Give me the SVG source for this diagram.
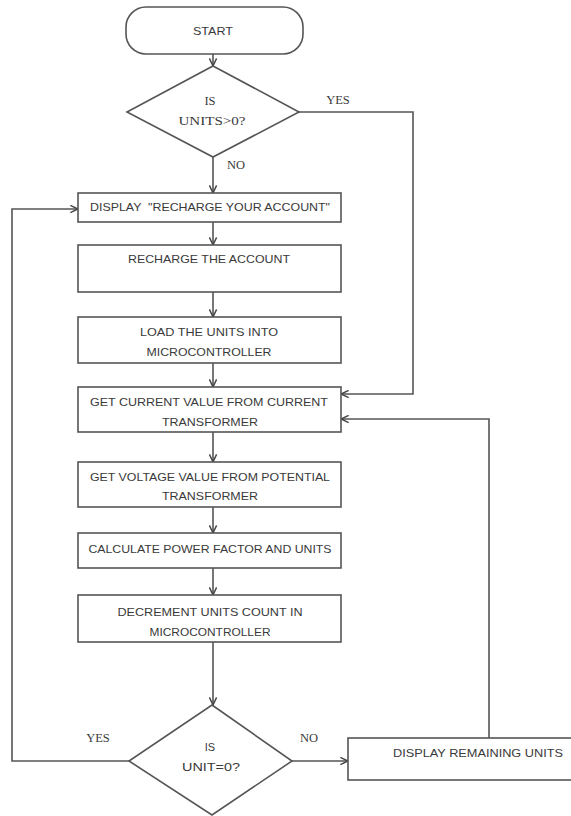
<svg xmlns="http://www.w3.org/2000/svg" width="571" height="816" viewBox="0 0 571 816">
<style>
.shape{fill:#fff;stroke:#555;stroke-width:1.6}
.line{fill:none;stroke:#555;stroke-width:1.6}
.t{font-family:"Liberation Sans",Arial,sans-serif;font-size:11px;fill:#3a3a3a;text-anchor:middle;dominant-baseline:central}
.s{font-family:"Liberation Serif","Times New Roman",serif;font-size:12.5px;fill:#3a3a3a;text-anchor:middle;dominant-baseline:central}
</style>
<defs>
<marker id="arr" viewBox="0 0 10 10" refX="9.5" refY="5" markerWidth="9" markerHeight="9" markerUnits="userSpaceOnUse" orient="auto">
<path d="M1,1 L9.5,5 L1,9" fill="none" stroke="#444" stroke-width="1.6"/>
</marker>
</defs>
<rect width="571" height="816" fill="#fff"/>
<g id="connectors">
<line class="line" x1="213" y1="54" x2="213" y2="66" marker-end="url(#arr)"/>
<line class="line" x1="213" y1="157" x2="213" y2="193" marker-end="url(#arr)"/>
<polyline class="line" points="299,112 413,112 413,394 341,394" marker-end="url(#arr)"/>
<line class="line" x1="213" y1="222" x2="213" y2="245" marker-end="url(#arr)"/>
<line class="line" x1="213" y1="292" x2="213" y2="317" marker-end="url(#arr)"/>
<line class="line" x1="213" y1="363" x2="213" y2="387" marker-end="url(#arr)"/>
<line class="line" x1="213" y1="432" x2="213" y2="462" marker-end="url(#arr)"/>
<line class="line" x1="213" y1="507" x2="213" y2="533" marker-end="url(#arr)"/>
<line class="line" x1="213" y1="568" x2="213" y2="595" marker-end="url(#arr)"/>
<line class="line" x1="213" y1="642" x2="213" y2="705" marker-end="url(#arr)"/>
<polyline class="line" points="129,761 12,761 12,209 78,209" marker-end="url(#arr)"/>
<line class="line" x1="292" y1="761" x2="348" y2="761" marker-end="url(#arr)"/>
<polyline class="line" points="489,738 489,419 341,419" marker-end="url(#arr)"/>
<text class="s" x="338" y="100">YES</text>
<text class="s" x="236" y="165">NO</text>
<text class="s" x="98" y="738">YES</text>
<text class="s" x="309" y="738">NO</text>
</g>
<g id="start">
<rect class="shape" x="126" y="7" width="177" height="47" rx="20" ry="20"/>
<text class="t" x="213" y="31" textLength="40" lengthAdjust="spacingAndGlyphs">START</text>
</g>
<g id="decision1">
<polygon class="shape" points="213,66 299,112 213,157 127,112"/>
<text class="s" x="210" y="101">IS</text>
<text class="s" x="212" y="121" textLength="67" lengthAdjust="spacingAndGlyphs">UNITS&gt;0?</text>
</g>
<g id="display-recharge">
<rect class="shape" x="78" y="193" width="263" height="29"/>
<text class="t" x="210" y="207" textLength="240" lengthAdjust="spacingAndGlyphs" xml:space="preserve">DISPLAY  "RECHARGE YOUR ACCOUNT"</text>
</g>
<g id="recharge">
<rect class="shape" x="78" y="245" width="263" height="47"/>
<text class="t" x="209" y="259" textLength="162" lengthAdjust="spacingAndGlyphs">RECHARGE THE ACCOUNT</text>
</g>
<g id="load">
<rect class="shape" x="78" y="317" width="263" height="46"/>
<text class="t" x="209" y="332" textLength="138" lengthAdjust="spacingAndGlyphs">LOAD THE UNITS INTO</text>
<text class="t" x="209" y="352" textLength="125" lengthAdjust="spacingAndGlyphs">MICROCONTROLLER</text>
</g>
<g id="get-current">
<rect class="shape" x="78" y="387" width="263" height="45"/>
<text class="t" x="209" y="402" textLength="238" lengthAdjust="spacingAndGlyphs">GET CURRENT VALUE FROM CURRENT</text>
<text class="t" x="210" y="422" textLength="96" lengthAdjust="spacingAndGlyphs">TRANSFORMER</text>
</g>
<g id="get-voltage">
<rect class="shape" x="78" y="462" width="263" height="45"/>
<text class="t" x="210" y="477" textLength="240" lengthAdjust="spacingAndGlyphs">GET VOLTAGE VALUE FROM POTENTIAL</text>
<text class="t" x="210" y="496" textLength="96" lengthAdjust="spacingAndGlyphs">TRANSFORMER</text>
</g>
<g id="calculate">
<rect class="shape" x="78" y="533" width="263" height="35"/>
<text class="t" x="210" y="549" textLength="243" lengthAdjust="spacingAndGlyphs">CALCULATE POWER FACTOR AND UNITS</text>
</g>
<g id="decrement">
<rect class="shape" x="78" y="595" width="263" height="47"/>
<text class="t" x="210" y="612" textLength="185" lengthAdjust="spacingAndGlyphs">DECREMENT UNITS COUNT IN</text>
<text class="t" x="210" y="632" textLength="121" lengthAdjust="spacingAndGlyphs">MICROCONTROLLER</text>
</g>
<g id="decision2">
<polygon class="shape" points="212,705 292,761 212,815 129,761"/>
<text class="t" x="210" y="747">IS</text>
<text class="t" x="211" y="767" textLength="58" lengthAdjust="spacingAndGlyphs">UNIT=0?</text>
</g>
<g id="display-remaining">
<rect class="shape" x="348" y="738" width="230" height="42"/>
<text class="t" x="478" y="753" textLength="170" lengthAdjust="spacingAndGlyphs">DISPLAY REMAINING UNITS</text>
</g>
</svg>
